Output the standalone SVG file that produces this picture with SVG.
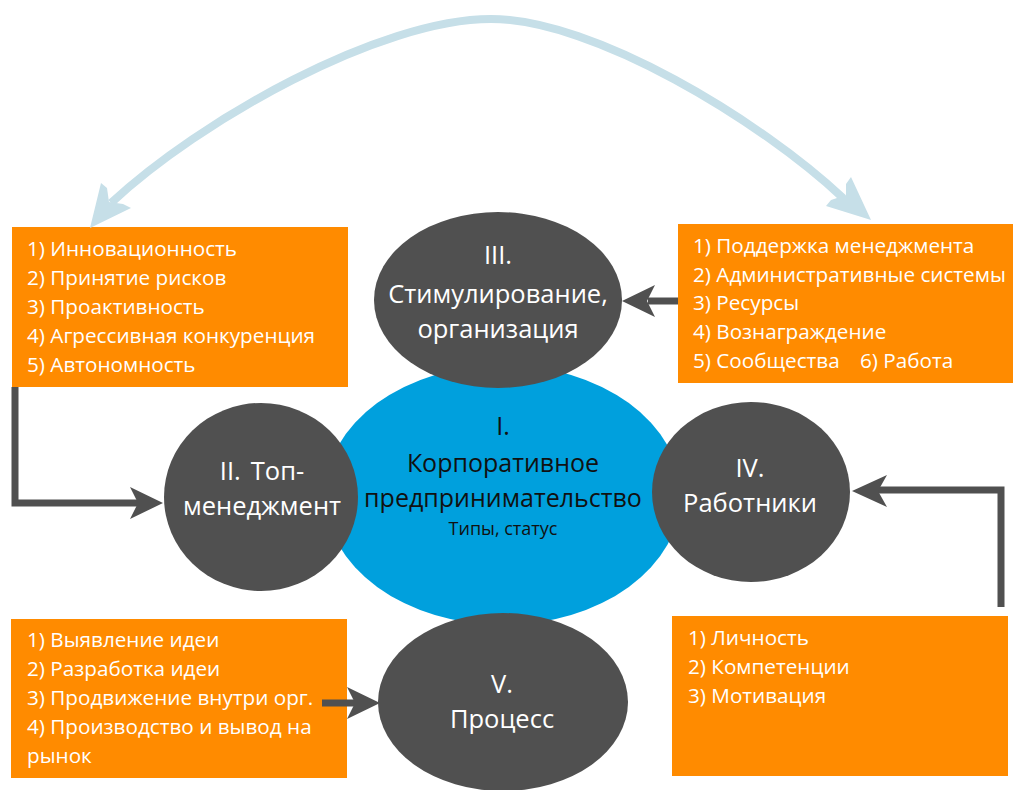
<svg xmlns="http://www.w3.org/2000/svg" width="1013" height="790" viewBox="0 0 1013 790">
<style>
.box{fill:#ff8b00}
.gray{fill:#505050}
.bt{font-family:"Open Sans","Noto Sans",sans-serif;font-size:20.7px;fill:#ffffff}
.ct{font-family:"Open Sans","Noto Sans",sans-serif;font-size:25.5px;fill:#ffffff;text-anchor:middle}
.mt{font-family:"Open Sans","Noto Sans",sans-serif;font-size:25px;fill:#111111;text-anchor:middle}
.st{font-family:"Open Sans","Noto Sans",sans-serif;font-size:18px;fill:#111111;text-anchor:middle}
.ln{fill:none;stroke:#505050;stroke-width:7}
.arc{fill:none;stroke:#c6dfe8;stroke-width:8}
.ah{fill:#505050}
.lah{fill:#c6dfe8}
</style>
<rect width="1013" height="790" fill="#ffffff"/>
<g id="node-I">
<ellipse cx="503" cy="495" rx="178" ry="130" fill="#00a0dd"/>
<text class="mt" x="503" y="435">I.</text>
<text class="mt" x="503" y="472">Корпоративное</text>
<text class="mt" x="503" y="507">предпринимательство</text>
<text class="st" x="503" y="535">Типы, статус</text>
</g>
<g id="node-III">
<ellipse class="gray" cx="498" cy="300" rx="124" ry="88"/>
<text class="ct" x="498" y="264">III.</text>
<text class="ct" x="498" y="303">Стимулирование,</text>
<text class="ct" x="498" y="338">организация</text>
</g>
<g id="node-II">
<ellipse class="gray" cx="261" cy="497" rx="97" ry="94"/>
<text class="ct" x="262" y="480">II.<tspan dx="10">Топ-</tspan></text>
<text class="ct" x="262" y="515">менеджмент</text>
</g>
<g id="node-IV">
<ellipse class="gray" cx="751" cy="492" rx="99" ry="90"/>
<text class="ct" x="750" y="477">IV.</text>
<text class="ct" x="750" y="512">Работники</text>
</g>
<g id="node-V">
<ellipse class="gray" cx="503" cy="702" rx="125" ry="89"/>
<text class="ct" x="502" y="693">V.</text>
<text class="ct" x="502" y="728">Процесс</text>
</g>
<g id="box-1">
<rect class="box" x="12" y="227" width="336" height="160"/>
<text class="bt" x="27" y="256">1) Инновационность</text>
<text class="bt" x="27" y="285">2) Принятие рисков</text>
<text class="bt" x="27" y="314">3) Проактивность</text>
<text class="bt" x="27" y="343">4) Агрессивная конкуренция</text>
<text class="bt" x="27" y="372">5) Автономность</text>
</g>
<g id="box-2">
<rect class="box" x="678" y="224" width="340" height="159"/>
<text class="bt" x="693" y="253">1) Поддержка менеджмента</text>
<text class="bt" x="693" y="282">2) Административные системы</text>
<text class="bt" x="693" y="310">3) Ресурсы</text>
<text class="bt" x="693" y="339">4) Вознаграждение</text>
<text class="bt" x="693" y="368">5) Сообщества<tspan x="860">6) Работа</tspan></text>
</g>
<g id="box-3">
<rect class="box" x="11" y="619" width="336" height="159"/>
<text class="bt" x="27" y="647">1) Выявление идеи</text>
<text class="bt" x="27" y="676">2) Разработка идеи</text>
<text class="bt" x="27" y="705">3) Продвижение внутри орг.</text>
<text class="bt" x="27" y="734">4) Производство и вывод на</text>
<text class="bt" x="27" y="763">рынок</text>
</g>
<g id="box-4">
<rect class="box" x="672" y="616" width="336" height="160"/>
<text class="bt" x="688" y="645">1) Личность</text>
<text class="bt" x="688" y="674">2) Компетенции</text>
<text class="bt" x="688" y="703">3) Мотивация</text>
</g>
<g id="connectors">
<path class="arc" d="M111,203 C200,120 380,19 491,19 C594,19 761,121 843,198"/>
<polygon class="lah" points="90,228 101,183 107,188 109,202 123,204 131,208"/>
<polygon class="lah" points="871,220 851,177 846,184 846,195 831,200 826,206"/>
<path class="ln" d="M15,387 V503 H140"/>
<polygon class="ah" points="163,503 130,487 138,503 130,519"/>
<path class="ln" d="M678,301 H648"/>
<polygon class="ah" points="622,301 655,285 647,301 655,317"/>
<path class="ln" d="M1001,607 V490 H878"/>
<polygon class="ah" points="852,491 887,475 878,491 887,507"/>
<path class="ln" d="M322,703 H355"/>
<polygon class="ah" points="380,703 347,687 355,703 347,719"/>
</g>
</svg>
